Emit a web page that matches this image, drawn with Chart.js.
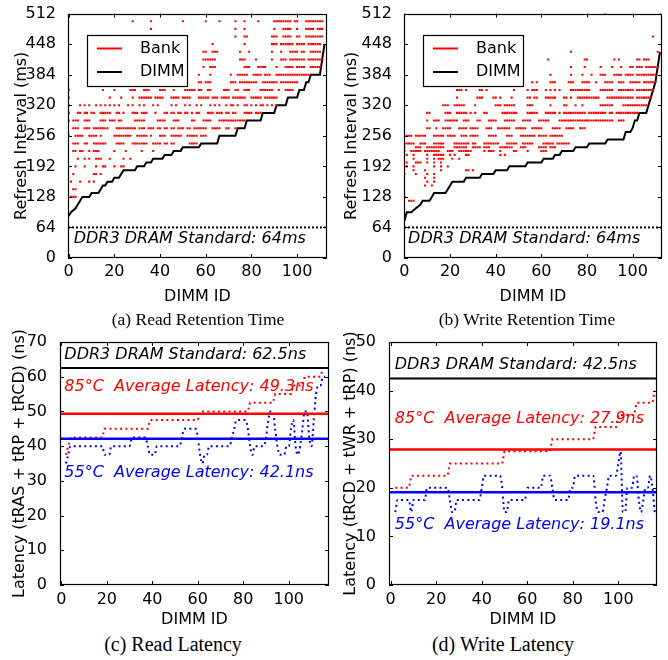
<!DOCTYPE html>
<html>
<head>
<meta charset="utf-8">
<script src="https://cdn.jsdelivr.net/npm/chart.js@4.4.1/dist/chart.umd.min.js"></script>
<style>
  html, body { margin: 0; padding: 0; background: #fff; }
  #fig { position: relative; width: 668px; height: 660px; overflow: hidden; }
  #fig canvas { position: absolute; }
  .cap { position: absolute; font-family: "Liberation Serif", "Times New Roman", serif; font-size: 20px;
         line-height: 20px; color: #000; white-space: nowrap; transform: translateX(-50%); }
  .cap.small { font-size: 17.5px; }
</style>
</head>
<body>
<div id="fig">
  <canvas id="readRet" width="334" height="306" style="left:0;top:0;width:334px;height:306px"></canvas>
  <canvas id="writeRet" width="334" height="306" style="left:334px;top:0;width:334px;height:306px"></canvas>
  <canvas id="readLat" width="334" height="307" style="left:0;top:322px;width:334px;height:307px"></canvas>
  <canvas id="writeLat" width="334" height="307" style="left:334px;top:322px;width:334px;height:307px"></canvas>
  <div class="cap small" style="left:198px;top:309px">(a) Read Retention Time</div>
  <div class="cap small" style="left:527px;top:309px">(b) Write Retention Time</div>
  <div class="cap" style="left:173px;top:634px">(c) Read Latency</div>
  <div class="cap" style="left:503px;top:634px">(d) Write Latency</div>
</div>
<script>
// ---- axis ticks ----
var dimmTicks = [0, 20, 40, 60, 80, 100];
var retentionTicks = [0, 64, 128, 192, 256, 320, 384, 448, 512];
var readLatencyTicks = [0, 10, 20, 30, 40, 50, 60, 70];
var writeLatencyTicks = [0, 10, 20, 30, 40, 50];

// ---- reference values ----
var retentionStandard = 64;      // ms
var readStandard = 62.5;         // ns
var writeStandard = 42.5;        // ns
var readAvg85 = 49.3, readAvg55 = 42.1;
var writeAvg85 = 27.9, writeAvg55 = 19.1;

// ---- (a) read retention: DIMM minimum, one value per DIMM 0..112 ----
var readDimm = [88, 96, 100, 104, 112, 120, 128, 128, 128, 128,
  136, 136, 136, 136, 144, 152, 152, 160, 160, 160,
  168, 168, 168, 176, 184, 184, 184, 184, 184, 184,
  192, 192, 192, 192, 200, 200, 200, 208, 208, 208,
  208, 208, 216, 216, 216, 216, 224, 224, 224, 224,
  232, 232, 232, 232, 232, 232, 232, 232, 240, 240,
  240, 240, 240, 240, 240, 240, 256, 256, 256, 256,
  256, 256, 256, 256, 272, 272, 272, 272, 288, 288,
  288, 288, 288, 288, 288, 304, 304, 304, 304, 304,
  304, 320, 320, 320, 320, 320, 336, 336, 336, 336,
  336, 352, 352, 352, 368, 368, 384, 384, 384, 384,
  384, 416, 448];

// bank retention levels (ms) and the DIMMs that have a bank at that level
var readBankLevels = [496, 480, 464, 448, 432, 416, 400, 384, 368, 352, 336, 320, 304, 288, 272, 256, 240, 224, 208, 192, 176, 160, 144, 128];
var readBankDimms = [
  [28, 36, 50, 60, 66, 73, 77, 83, 90, 91, 92, 93, 94, 95, 96, 97, 99, 100, 104, 105, 106, 107, 108, 109, 110, 111],
  [36, 73, 77, 90, 94, 95, 96, 97, 100, 104, 105, 106, 107, 109, 110, 111],
  [73, 77, 78, 89, 90, 91, 94, 95, 96, 97, 100, 101, 104, 105, 106, 107, 108, 109, 110, 111],
  [63, 77, 89, 90, 91, 93, 94, 95, 96, 97, 98, 100, 101, 102, 103, 105, 106, 107, 108, 109, 110],
  [59, 60, 63, 64, 65, 75, 79, 89, 93, 97, 98, 99, 100, 102, 103, 106, 107, 108, 109, 110],
  [59, 60, 61, 62, 63, 64, 75, 76, 77, 82, 89, 93, 94, 95, 97, 98, 99, 100, 101, 102, 103, 105, 106, 107, 108, 109, 110, 111],
  [59, 62, 63, 64, 77, 78, 79, 83, 84, 85, 86, 91, 95, 96, 97, 98, 100, 101, 102, 103, 106, 107, 108, 109, 110],
  [57, 62, 71, 74, 75, 76, 77, 78, 81, 82, 83, 84, 86, 87, 88, 91, 92, 93, 94, 95, 96, 97, 98, 99, 100, 101, 102, 103, 104, 105],
  [57, 58, 60, 61, 62, 71, 72, 73, 75, 76, 77, 78, 79, 80, 81, 82, 85, 86, 87, 88, 89, 90, 91, 93, 94, 95, 96, 97, 98, 99, 100],
  [0, 15, 20, 27, 28, 29, 33, 34, 35, 40, 41, 42, 46, 51, 52, 53, 54, 55, 57, 58, 61, 62, 68, 69, 70, 73, 74, 77, 78, 79, 84, 85, 86, 87, 88, 89, 92, 95, 96, 97, 98],
  [0, 18, 23, 28, 31, 32, 33, 34, 35, 36, 38, 39, 40, 41, 45, 46, 47, 48, 50, 51, 52, 53, 57, 58, 59, 60, 61, 63, 64, 65, 67, 68, 69, 70, 72, 73, 74, 75, 76, 77, 80, 81, 82, 83, 84, 86, 87, 88, 89, 90, 91],
  [0, 5, 7, 9, 12, 14, 16, 18, 20, 22, 26, 28, 31, 33, 37, 39, 45, 47, 51, 53, 56, 58, 62, 64, 66, 69, 71, 72, 74, 77, 78, 80, 82, 84, 85, 87, 89, 91],
  [0, 4, 5, 7, 8, 10, 11, 14, 15, 16, 17, 18, 21, 22, 24, 28, 29, 30, 32, 33, 34, 38, 42, 43, 45, 46, 48, 49, 51, 52, 54, 56, 57, 61, 62, 63, 65, 66, 67, 69, 70, 72, 73, 77, 78, 79, 80, 82, 83, 84],
  [0, 2, 3, 4, 7, 8, 9, 14, 15, 16, 18, 19, 20, 22, 23, 29, 30, 31, 32, 33, 39, 40, 41, 42, 46, 47, 48, 54, 55, 59, 60, 61, 62, 66, 67, 68, 69, 70, 71, 72, 73, 74, 75, 76, 77],
  [2, 3, 4, 7, 8, 9, 11, 12, 13, 14, 15, 16, 17, 21, 22, 23, 24, 25, 26, 27, 28, 29, 31, 32, 33, 35, 36, 37, 39, 40, 42, 43, 45, 46, 48, 49, 50, 52, 53, 55, 56, 57, 58, 59, 60, 63, 64, 65, 66, 69, 70, 73],
  [0, 3, 4, 5, 6, 9, 10, 11, 12, 14, 20, 21, 22, 23, 24, 25, 26, 27, 30, 31, 32, 33, 34, 36, 40, 41, 42, 45, 46, 47, 48, 49, 52, 53, 54, 55, 56, 58, 59, 60],
  [2, 3, 4, 7, 8, 11, 12, 13, 14, 15, 16, 21, 22, 23, 24, 28, 29, 30, 31, 32, 33, 34, 37, 38, 39, 40, 42, 43, 45, 46, 53, 54, 55, 56],
  [2, 3, 5, 6, 9, 11, 12, 13, 20, 25, 32, 37],
  [4, 7, 9, 12, 13, 14, 18, 24, 27],
  [3, 7, 12, 15, 16, 20, 23, 24],
  [2, 11, 12, 14],
  [1, 5, 9, 11],
  [2, 3],
  [1, 2, 3]
];

// ---- (b) write retention ----
var writeDimm = [78, 96, 96, 96, 100, 104, 108, 112, 120, 120,
  120, 120, 128, 136, 136, 136, 136, 136, 136, 144,
  152, 160, 160, 160, 160, 160, 160, 168, 168, 168,
  168, 168, 168, 168, 176, 176, 176, 176, 176, 176,
  184, 184, 184, 184, 184, 184, 192, 192, 192, 192,
  192, 192, 192, 192, 200, 200, 200, 200, 200, 200,
  200, 208, 208, 208, 208, 208, 216, 216, 216, 224,
  224, 224, 224, 224, 224, 232, 232, 232, 232, 232,
  232, 240, 240, 240, 240, 240, 240, 240, 240, 248,
  248, 248, 248, 248, 248, 248, 248, 264, 264, 264,
  272, 288, 288, 304, 304, 304, 304, 320, 336, 352,
  368, 400, 432];

var writeBankLevels = [512, 464, 432, 416, 400, 384, 368, 352, 336, 320, 304, 288, 272, 256, 240, 232, 224, 216, 208, 200, 192, 184, 176, 168, 160, 152, 128, 120];
var writeBankDimms = [
  [88, 112],
  [109],
  [73, 111],
  [63, 79, 80, 92, 94, 102, 103, 105, 106, 107],
  [73, 79, 86, 91, 95, 99, 100, 102, 103, 104, 106, 107, 108, 109, 110, 111],
  [64, 73, 78, 82, 86, 87, 88, 92, 93, 94, 95, 97, 98, 99, 100, 102, 103, 104, 105, 106, 107, 108, 109, 110],
  [56, 58, 64, 65, 66, 72, 73, 74, 78, 79, 80, 81, 84, 88, 89, 90, 91, 94, 95, 96, 99, 100, 101, 102, 103, 105, 106, 107, 108, 109, 110],
  [23, 24, 25, 27, 33, 34, 36, 48, 54, 56, 57, 58, 62, 64, 66, 68, 73, 74, 75, 76, 77, 78, 79, 80, 81, 86, 87, 88, 89, 90, 91, 94, 95, 96, 97, 98, 99, 100, 102, 103, 104, 105, 106, 107, 108, 109],
  [23, 32, 33, 34, 39, 40, 42, 47, 54, 55, 57, 58, 62, 63, 64, 65, 66, 70, 71, 73, 76, 77, 78, 79, 80, 81, 82, 83, 84, 85, 89, 90, 91, 92, 93, 94, 95, 96, 97, 98, 99, 100, 102, 103, 104, 105, 106, 107, 108],
  [17, 18, 19, 22, 23, 24, 25, 26, 31, 40, 41, 42, 44, 45, 46, 47, 48, 54, 55, 56, 64, 70, 71, 75, 78, 86, 87, 88, 89, 90, 91, 96, 97, 98, 99, 100, 101, 102, 103, 104, 105, 106],
  [10, 11, 18, 19, 20, 23, 24, 25, 26, 27, 29, 31, 35, 36, 43, 44, 45, 46, 47, 48, 49, 54, 55, 56, 57, 58, 62, 63, 64, 65, 66, 68, 70, 71, 72, 73, 74, 75, 76, 77, 78, 79, 81, 82, 83, 84, 85, 86, 87, 88, 90, 91, 93, 94, 95, 96, 97, 98, 99, 100, 101, 102],
  [10, 13, 14, 15, 18, 19, 20, 21, 22, 23, 26, 27, 28, 32, 33, 37, 38, 39, 40, 44, 45, 46, 47, 48, 52, 53, 54, 55, 59, 60, 61, 62, 63, 68, 69, 70, 71, 72, 73, 74, 75, 76, 77, 78, 79, 80, 81, 82, 83, 84, 85, 86, 87, 88, 89, 90, 91, 94, 95, 96],
  [10, 11, 14, 17, 18, 19, 20, 24, 25, 26, 27, 29, 30, 31, 32, 36, 37, 38, 41, 42, 43, 44, 45, 46, 49, 50, 51, 52, 53, 56, 57, 58, 59, 60, 65, 66, 67, 68, 71, 72, 73, 74, 77, 78, 79],
  [0, 1, 2, 3, 5, 6, 7, 8, 9, 13, 14, 15, 16, 17, 19, 20, 21, 22, 25, 26, 27, 29, 30, 31, 32, 37, 38, 39, 40, 45, 46, 47, 51, 52, 53, 54, 55, 56, 57, 59, 60, 61, 62, 64, 65, 66, 67, 68, 69],
  [0, 1, 2, 3, 4, 7, 8, 9, 13, 14, 15, 16, 17, 22, 23, 24, 25, 26, 27, 28, 30, 31, 35, 36, 37, 38, 39, 40, 41, 45, 46, 47, 48, 49, 52, 53, 54, 55, 56, 61, 62, 63, 64, 65, 67, 68, 69, 70, 71, 72],
  [0, 5, 6, 7, 10, 11, 12, 13, 14, 15, 16, 17, 22, 23, 24, 25, 26, 27, 30, 31, 32, 33, 35, 36, 37, 42, 43, 44, 45, 46, 47, 51, 52, 53, 59, 60, 61, 62, 64, 65, 66],
  [0, 3, 4, 5, 6, 7, 9, 10, 11, 12, 13, 14, 15, 19, 20, 21, 24, 25, 26, 27, 28, 29, 35, 37, 38, 39, 42, 48, 49, 54, 60, 61, 62],
  [1, 4, 10, 13, 14, 15, 16, 17, 20, 22, 27, 28, 42, 44],
  [4, 10, 13, 15, 16, 17, 21, 24],
  [1, 5, 6, 7, 10, 13, 16],
  [1, 4, 13, 16, 19],
  [4, 9, 16, 27, 28, 30],
  [0, 5, 10, 13],
  [9, 13],
  [10, 13],
  [9, 12],
  [0],
  [2, 3, 4]
];

// ---- (c)/(d) latency per DIMM, DIMM IDs 2..116 ----
var latencyFirstDimm = 2;
var readLat85 = [37.5, 40,
  42.5, 42.5, 42.5, 42.5, 42.5, 42.5, 42.5, 42.5, 42.5, 42.5, 42.5, 42.5, 42.5, 42.5, 42.5,
  45, 45, 45, 45, 45, 45, 45, 45, 45, 45, 45, 45, 45, 45, 45, 45, 45, 45, 45, 45,
  47.5, 47.5, 47.5, 47.5, 47.5, 47.5, 47.5, 47.5, 47.5, 47.5, 47.5, 47.5, 47.5, 47.5, 47.5, 47.5, 47.5, 47.5, 47.5, 47.5, 47.5, 47.5,
  50, 50, 50, 50, 50, 50, 50, 50, 50, 50, 50, 50, 50, 50, 50, 50, 50, 50, 50, 50, 50, 50,
  52.5, 52.5, 52.5, 52.5, 52.5, 52.5, 52.5, 52.5, 52.5, 52.5, 52.5,
  55, 55, 55, 55, 55, 55, 55, 55,
  57.5, 57.5, 57.5, 57.5, 57.5,
  60, 60, 60, 60, 60, 60, 60, 60, 62.5, 62.5];
var readLat55 = [35, 37.5,
  40, 40, 40, 40, 40, 40, 40, 40, 40, 40, 40, 40, 40, 40, 40,
  37.5, 37.5, 37.5, 40, 40, 40, 40, 40, 40, 40, 40, 40,
  42.5, 42.5, 42.5, 42.5, 42.5, 42.5, 42.5, 40, 37.5, 37.5, 37.5,
  40, 40, 40, 40, 40, 40, 40, 40, 40, 40, 40, 42.5,
  45, 45, 45, 45, 45, 45, 42.5, 37.5, 35, 37.5, 37.5,
  40, 40, 40, 40, 40, 40, 40, 40, 40, 40, 42.5, 45,
  47.5, 47.5, 47.5, 47.5, 47.5, 45, 40, 37.5,
  40, 40, 40, 40, 40, 42.5, 47.5, 50, 50, 45, 40, 37.5, 37.5, 37.5,
  40, 40, 45, 47.5, 40, 37.5, 40, 45, 50, 50, 42.5, 40, 47.5, 55, 57.5, 57.5, 60, 60];
var writeLat85 = [20, 20, 20, 20, 20, 20, 20,
  22.5, 22.5, 22.5, 22.5, 22.5, 22.5, 22.5, 22.5, 22.5, 22.5, 22.5, 22.5, 22.5, 22.5, 22.5, 22.5, 22.5,
  25, 25, 25, 25, 25, 25, 25, 25, 25, 25, 25, 25, 25, 25, 25, 25, 25, 25, 25, 25, 25, 25, 25, 25,
  27.5, 27.5, 27.5, 27.5, 27.5, 27.5, 27.5, 27.5, 27.5, 27.5, 27.5, 27.5, 27.5, 27.5, 27.5, 27.5, 27.5, 27.5, 27.5, 27.5, 27.5,
  30, 30, 30, 30, 30, 30, 30, 30, 30, 30, 30, 30, 30, 30, 30, 30, 30, 30, 30,
  32.5, 32.5, 32.5, 32.5, 32.5, 32.5, 32.5, 32.5, 32.5, 32.5,
  35, 35, 35, 35, 35, 35, 35, 35,
  37.5, 37.5, 37.5, 37.5, 37.5, 37.5, 37.5, 37.5, 40];
var writeLat55 = [15, 17.5, 17.5, 17.5, 17.5, 17.5, 17.5, 15, 17.5, 17.5, 17.5, 17.5, 17.5, 17.5,
  20, 20, 20, 20, 20, 20, 20, 20, 20, 20, 17.5, 15, 15,
  17.5, 17.5, 17.5, 17.5, 17.5, 17.5, 17.5, 17.5, 17.5, 17.5, 17.5, 20,
  22.5, 22.5, 22.5, 22.5, 22.5, 22.5, 22.5, 22.5, 20, 15, 15,
  17.5, 17.5, 17.5, 17.5, 17.5, 17.5, 17.5, 17.5, 20, 20, 20, 20, 20, 20, 20,
  22.5, 22.5, 22.5, 22.5, 20, 17.5, 17.5, 17.5, 17.5, 17.5, 17.5, 17.5, 20, 20,
  22.5, 22.5, 22.5, 22.5, 22.5, 22.5, 22.5, 22.5, 22.5, 17.5, 15, 15, 15, 17.5, 20,
  22.5, 22.5, 22.5, 22.5, 25, 27.5, 15, 15, 20, 20, 20, 22.5, 22.5, 17.5, 15, 17.5, 20, 20, 22.5, 20, 15];

var RED = '#ff0000', BLUE = '#0000ff', BLACK = '#000000';
var FONT = 'DejaVu Sans';
Chart.defaults.font.family = FONT;
Chart.defaults.color = BLACK;

// helpers that turn the lists into point objects
function bankPoints(levels, dimms) {
    var pts = [];
    levels.forEach(function(lv, i) {
        dimms[i].forEach(function(d) { pts.push({x: d, y: lv}); });
    });
    return pts;
}
function seriesPoints(first, values) {
    return values.map(function(v, i) { return {x: first + i, y: v}; });
}
function hline(value, x0, x1) {
    return [{x: x0, y: value}, {x: x1, y: value}];
}

// matplotlib-like frame with inward ticks on all four sides
var framePlugin = {
    id: 'frame',
    afterDatasetsDraw: function(chart) {
        var ctx = chart.ctx, a = chart.chartArea, sx = chart.scales.x, sy = chart.scales.y;
        var tl = 4;
        ctx.save();
        ctx.strokeStyle = BLACK;
        ctx.lineWidth = 1;
        ctx.beginPath();
        sx.ticks.forEach(function(t) {
            var px = Math.round(sx.getPixelForValue(t.value)) + 0.5;
            ctx.moveTo(px, a.bottom); ctx.lineTo(px, a.bottom - tl);
            ctx.moveTo(px, a.top); ctx.lineTo(px, a.top + tl);
        });
        sy.ticks.forEach(function(t) {
            var py = Math.round(sy.getPixelForValue(t.value)) + 0.5;
            ctx.moveTo(a.left, py); ctx.lineTo(a.left + tl, py);
            ctx.moveTo(a.right, py); ctx.lineTo(a.right - tl, py);
        });
        ctx.stroke();
        ctx.lineWidth = 1.2;
        ctx.strokeRect(Math.round(a.left) + 0.5, Math.round(a.top) + 0.5,
                       Math.round(a.right - a.left) - 1, Math.round(a.bottom - a.top) - 1);
        ctx.restore();
    }
};

// in-plot texts and the boxed legend
var notesPlugin = {
    id: 'notes',
    afterDraw: function(chart, args, opts) {
        var ctx = chart.ctx, a = chart.chartArea, sx = chart.scales.x, sy = chart.scales.y;
        ctx.save();
        (opts.texts || []).forEach(function(t) {
            ctx.font = 'italic 16px "' + FONT + '"';
            ctx.fillStyle = t.color;
            ctx.textAlign = 'left';
            ctx.textBaseline = 'middle';
            ctx.fillText(t.text, sx.getPixelForValue(t.x), sy.getPixelForValue(t.y));
        });
        var lg = opts.legend;
        if (lg) {
            var bx = Math.round(a.left + lg.left), by = Math.round(a.top + lg.top);
            ctx.fillStyle = '#fff';
            ctx.fillRect(bx, by, lg.width, lg.height);
            ctx.strokeStyle = BLACK;
            ctx.lineWidth = 1.2;
            ctx.strokeRect(bx + 0.5, by + 0.5, lg.width, lg.height);
            lg.items.forEach(function(idx, i) {
                var ds = chart.data.datasets[idx];
                var yy = by + 13.5 + i * 23.5;
                ctx.strokeStyle = ds.legendColor;
                ctx.lineWidth = 2;
                ctx.beginPath();
                ctx.moveTo(bx + 10, yy); ctx.lineTo(bx + 35, yy);
                ctx.stroke();
                ctx.font = '16px "' + FONT + '"';
                ctx.fillStyle = BLACK;
                ctx.textAlign = 'left';
                ctx.textBaseline = 'middle';
                ctx.fillText(ds.label, bx + 53, yy);
            });
        }
        ctx.restore();
    }
};

var tickFont = {family: FONT, size: 16};

function axes(o) {
    return {
        x: {
            type: 'linear', min: o.xMin, max: o.xMax,
            afterBuildTicks: function(s) { s.ticks = o.xTicks.map(function(v) { return {value: v}; }); },
            afterFit: function(s) { s.height = o.xHeight; },
            grid: {display: false}, border: {display: false},
            ticks: {font: tickFont, color: BLACK, padding: o.xPad, maxRotation: 0, autoSkip: false},
            title: {display: true, text: 'DIMM ID', font: tickFont, color: BLACK, padding: {top: 0, bottom: 0}}
        },
        y: {
            type: 'linear', min: o.yMin, max: o.yMax,
            afterBuildTicks: function(s) { s.ticks = o.yTicks.map(function(v) { return {value: v}; }); },
            afterFit: function(s) { s.width = o.yWidth; },
            grid: {display: false}, border: {display: false},
            ticks: {font: tickFont, color: BLACK, padding: o.yPad, autoSkip: false},
            title: {display: true, text: o.yTitle, font: tickFont, color: BLACK, padding: {top: o.yTitleOff, bottom: 0}}
        }
    };
}

function baseOptions(o, notes) {
    return {
        responsive: false, animation: false, devicePixelRatio: 1, events: [],
        layout: {padding: {left: 0, top: o.top, right: o.right, bottom: 0}},
        scales: axes(o),
        plugins: {legend: {display: false}, tooltip: {enabled: false}, notes: notes}
    };
}

function retentionChart(id, dimm, levels, dimms, o) {
    var xMin = o.xMin, xMax = o.xMax;
    return new Chart(document.getElementById(id), {
        type: 'scatter',
        data: {datasets: [
            {label: 'Bank', legendColor: RED, data: bankPoints(levels, dimms), showLine: false,
             pointStyle: 'rect', pointRadius: 1.45, pointBorderWidth: 0, backgroundColor: RED, borderColor: RED},
            {label: 'DIMM', legendColor: BLACK, data: seriesPoints(0, dimm), showLine: true,
             borderColor: BLACK, borderWidth: 2, pointRadius: 0, tension: 0},
            {label: 'standard', data: hline(retentionStandard, xMin, xMax), showLine: true,
             borderColor: BLACK, borderWidth: 2, borderDash: [2, 2], pointRadius: 0}
        ]},
        options: baseOptions(o, {
            texts: [{text: 'DDR3 DRAM Standard: 64ms', x: o.noteX, y: 41, color: BLACK}],
            legend: {left: o.legLeft, top: 21, width: 100, height: 51, items: [0, 1]}
        }),
        plugins: [framePlugin, notesPlugin]
    });
}

function latencyChart(id, hot, cold, std, avgHot, avgCold, o, labels) {
    var xMin = o.xMin, xMax = o.xMax;
    return new Chart(document.getElementById(id), {
        type: 'scatter',
        data: {datasets: [
            {label: 'std', data: hline(std, xMin, xMax), showLine: true, borderColor: BLACK, borderWidth: 2, pointRadius: 0},
            {label: '85avg', data: hline(avgHot, xMin, xMax), showLine: true, borderColor: RED, borderWidth: 2.5, pointRadius: 0},
            {label: '55avg', data: hline(avgCold, xMin, xMax), showLine: true, borderColor: BLUE, borderWidth: 2.5, pointRadius: 0},
            {label: '85', data: seriesPoints(latencyFirstDimm, hot), showLine: true, borderColor: RED,
             borderWidth: 2, borderDash: [2, 3.3], pointRadius: 0, tension: 0},
            {label: '55', data: seriesPoints(latencyFirstDimm, cold), showLine: true, borderColor: BLUE,
             borderWidth: 2, borderDash: [2, 3.3], pointRadius: 0, cubicInterpolationMode: 'monotone'}
        ]},
        options: baseOptions(o, {texts: [
            {text: labels[0], x: o.noteX, y: o.noteY[0], color: BLACK},
            {text: labels[1], x: o.noteX, y: o.noteY[1], color: RED},
            {text: labels[2], x: o.noteX, y: o.noteY[2], color: BLUE}
        ]}),
        plugins: [framePlugin, notesPlugin]
    });
}

retentionChart('readRet', readDimm, readBankLevels, readBankDimms, {
    xMin: -0.3, xMax: 113.1, yMin: 0, yMax: 512, xTicks: dimmTicks, yTicks: retentionTicks,
    top: 12, right: 7, xHeight: 48, xPad: -4, yWidth: 68, yPad: 4, yTitleOff: 12,
    yTitle: 'Refresh Interval (ms)', noteX: 2.2, legLeft: 19
});
retentionChart('writeRet', writeDimm, writeBankLevels, writeBankDimms, {
    xMin: -0.2, xMax: 112.9, yMin: 0, yMax: 512, xTicks: dimmTicks, yTicks: retentionTicks,
    top: 12, right: 6, xHeight: 48, xPad: -4, yWidth: 70, yPad: 4, yTitleOff: 8,
    yTitle: 'Refresh Interval (ms)', noteX: 1.6, legLeft: 19
});
latencyChart('readLat', readLat85, readLat55, readStandard, readAvg85, readAvg55, {
    xMin: -0.6, xMax: 117.7, yMin: 0, yMax: 70, xTicks: dimmTicks, yTicks: readLatencyTicks,
    top: 20, right: 5, xHeight: 44, xPad: -3, yWidth: 60, yPad: 5, yTitleOff: 10,
    yTitle: 'Latency (tRAS + tRP + tRCD) (ns)', noteX: 1.3, noteY: [66.3, 57.1, 32.2]
}, ['DDR3 DRAM Standard: 62.5ns', '85\u00b0C  Average Latency: 49.3ns', '55\u00b0C  Average Latency: 42.1ns']);
latencyChart('writeLat', writeLat85, writeLat55, writeStandard, writeAvg85, writeAvg55, {
    xMin: -0.75, xMax: 117, yMin: 0, yMax: 50, xTicks: dimmTicks, yTicks: writeLatencyTicks,
    top: 20, right: 11, xHeight: 44, xPad: -3, yWidth: 55, yPad: 5, yTitleOff: 7,
    yTitle: 'Latency (tRCD + tWR + tRP) (ns)', noteX: 1.8, noteY: [45.3, 34.1, 12.3]
}, ['DDR3 DRAM Standard: 42.5ns', '85\u00b0C  Average Latency: 27.9ns', '55\u00b0C  Average Latency: 19.1ns']);
</script>
</body>
</html>
